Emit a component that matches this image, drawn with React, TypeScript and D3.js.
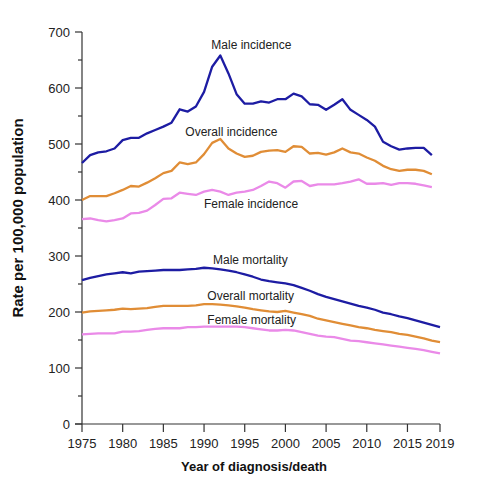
import React from "react";
import * as d3 from "d3";

const years = d3.range(1975, 2020);
const incYears = d3.range(1975, 2019);

const maleIncidence = [466, 480, 485, 487, 492, 507, 511, 511, 519, 525, 531, 538, 562, 558, 567, 593, 638, 658, 626, 589, 572, 572, 576, 574, 580, 580, 590, 585, 571, 570, 561, 570, 580, 561, 552, 543, 531, 504, 496, 490, 492, 493, 493, 480];
const overallIncidence = [400, 407, 407, 407, 412, 418, 425, 424, 431, 439, 448, 452, 467, 464, 467, 482, 502, 509, 492, 483, 477, 479, 486, 488, 489, 486, 496, 495, 483, 484, 481, 485, 492, 485, 483, 476, 470, 461, 455, 452, 454, 454, 452, 446];
const femaleIncidence = [366, 367, 364, 362, 364, 367, 376, 377, 381, 391, 402, 403, 413, 411, 409, 415, 418, 415, 409, 413, 415, 418, 425, 433, 430, 422, 433, 434, 425, 428, 428, 428, 430, 433, 437, 429, 429, 430, 427, 430, 430, 429, 426, 423];
const maleMortality = [257, 261, 264, 267, 269, 271, 269, 272, 273, 274, 275, 275, 275, 276, 277, 279, 278, 276, 274, 271, 267, 263, 258, 255, 253, 251, 248, 243, 238, 232, 227, 223, 219, 215, 211, 208, 204, 199, 196, 192, 189, 185, 181, 177, 173];
const overallMortality = [199, 201, 202, 203, 204, 206, 205, 206, 207, 209, 211, 211, 211, 211, 212, 214, 214, 213, 212, 210, 208, 205, 203, 201, 200, 202, 199, 196, 193, 188, 185, 182, 179, 176, 173, 171, 168, 166, 164, 161, 159, 156, 153, 149, 146];
const femaleMortality = [160, 161, 162, 162, 162, 165, 165, 166, 168, 170, 171, 171, 171, 173, 173, 174, 174, 174, 174, 174, 173, 171, 169, 167, 167, 168, 167, 164, 161, 158, 156, 155, 152, 149, 148, 146, 144, 142, 140, 138, 136, 134, 132, 129, 126];

const xTicks = [1975, 1980, 1985, 1990, 1995, 2000, 2005, 2010, 2015, 2019];
const yTicks = [0, 100, 200, 300, 400, 500, 600, 700];
const yMinorTicks = [50, 150, 250, 350, 450, 550, 650];

const seriesNames = ["Male incidence", "Overall incidence", "Female incidence", "Male mortality", "Overall mortality", "Female mortality"];
const seriesValues = [maleIncidence, overallIncidence, femaleIncidence, maleMortality, overallMortality, femaleMortality];
const seriesYears = [incYears, incYears, incYears, years, years, years];
const seriesColors = ["#1d1ca3", "#e08d36", "#ea8ae8", "#1d1ca3", "#e08d36", "#ea8ae8"];
// label anchor: start-x (year) and value position for label text baseline
const labelYears = [1990.9, 1987.7, 1990.0, 1991.1, 1990.4, 1990.4];
const labelValues = [670, 514, 386, 286, 221, 179];

const W = 477;
const H = 493;
const FONT = "'Liberation Sans', Arial, sans-serif";

export default function App() {
  const x = d3.scaleLinear().domain([1975, 2019]).range([82, 440]);
  const y = d3.scaleLinear().domain([0, 700]).range([424, 32]);
  const line = d3.line<[number, number]>().x((d) => x(d[0])).y((d) => y(d[1]));
  const axisColor = "#333";

  return (
    <svg width={W} height={H} style={{ position: "absolute", left: 0, top: 0, background: "#fff" }} fontFamily={FONT}>
      {/* axes */}
      <line x1={x(1975)} x2={x(1975)} y1={y(700)} y2={y(0)} stroke={axisColor} strokeWidth={1.2} />
      <line x1={x(1975) - 7} x2={x(2019)} y1={y(0)} y2={y(0)} stroke={axisColor} strokeWidth={1.2} />
      {yTicks.map((t) => (
        <g key={"y" + t}>
          <line x1={x(1975) - 7} x2={x(1975)} y1={y(t)} y2={y(t)} stroke={axisColor} strokeWidth={1.2} />
          <text x={70} y={y(t)} dy="0.35em" textAnchor="end" fontSize={13} fill="#222">{t}</text>
        </g>
      ))}
      {yMinorTicks.map((t) => (
        <line key={"ym" + t} x1={x(1975) - 4} x2={x(1975)} y1={y(t)} y2={y(t)} stroke={axisColor} strokeWidth={1.2} />
      ))}
      {xTicks.map((t) => (
        <g key={"x" + t}>
          <line x1={x(t)} x2={x(t)} y1={y(0)} y2={y(0) + 8} stroke={axisColor} strokeWidth={1.2} />
          <text x={x(t)} y={448} textAnchor="middle" fontSize={13} fill="#222">{t}</text>
        </g>
      ))}
      <text x={254} y={471} textAnchor="middle" fontSize={13} fontWeight="bold" fill="#111">Year of diagnosis/death</text>
      <text transform={`translate(23,218) rotate(-90)`} textAnchor="middle" fontSize={15} fontWeight="bold" fill="#111">Rate per 100,000 population</text>

      {/* series */}
      {seriesValues.map((vals, i) => (
        <path
          key={"s" + i}
          d={line(vals.map((v, j) => [seriesYears[i][j], v] as [number, number])) || ""}
          fill="none"
          stroke={seriesColors[i]}
          strokeWidth={2.3}
          strokeLinejoin="round"
        />
      ))}
      {seriesNames.map((n, i) => (
        <text key={"l" + i} x={x(labelYears[i])} y={y(labelValues[i])} fontSize={12} fill="#222">{n}</text>
      ))}
    </svg>
  );
}
